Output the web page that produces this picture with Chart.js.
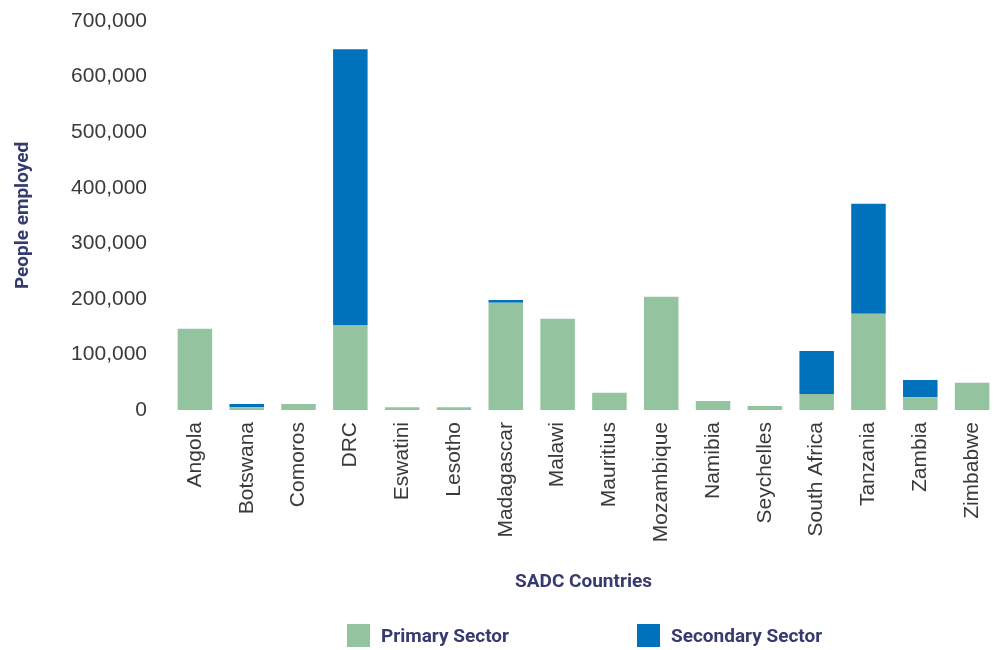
<!DOCTYPE html>
<html>
<head>
<meta charset="utf-8">
<script src="https://cdn.jsdelivr.net/npm/chart.js@4"></script>
<style>
  html, body { margin: 0; padding: 0; background: #fff; }
  #wrap { position: relative; width: 1003px; height: 650px; }
  #legend { position: absolute; top: 622px; left: 0; width: 1003px; height: 28px; font-family: Roboto, sans-serif; font-weight: bold; font-size: 19px; color: #353a6f; }
  .item { position: absolute; top: 0; display: flex; align-items: center; height: 27px; }
  .box { width: 23px; height: 23px; margin-right: 11px; }
</style>
</head>
<body>
<div id="wrap">
  <canvas id="c" width="1003" height="650"></canvas>
  <div id="legend"></div>
</div>
<script>
const categories = ["Angola","Botswana","Comoros","DRC","Eswatini","Lesotho","Madagascar","Malawi","Mauritius","Mozambique","Namibia","Seychelles","South Africa","Tanzania","Zambia","Zimbabwe"];
const primarySector = [146000, 5000, 11000, 153000, 5000, 5000, 193000, 164000, 31000, 204000, 16000, 7000, 29000, 173000, 23000, 49000];
const secondarySector = [0, 6000, 0, 496000, 0, 0, 5000, 0, 0, 0, 0, 0, 77000, 198000, 31000, 0];
const seriesNames = ["Primary Sector", "Secondary Sector"];
const seriesColors = ["#93c49f", "#0072bc"];
const yTicks = [0, 100000, 200000, 300000, 400000, 500000, 600000, 700000];

const navy = "#353a6f";
const titleFont = { family: "Roboto, sans-serif", weight: "bold", size: 19 };
const tickFont = { family: "'Liberation Sans', Arial, sans-serif", size: 21, weight: "normal" };

const chart = new Chart(document.getElementById("c"), {
  type: "bar",
  data: {
    labels: categories,
    datasets: [
      { label: seriesNames[0], data: primarySector, backgroundColor: seriesColors[0], barPercentage: 0.666, categoryPercentage: 1 },
      { label: seriesNames[1], data: secondarySector, backgroundColor: seriesColors[1], barPercentage: 0.666, categoryPercentage: 1 }
    ]
  },
  options: {
    responsive: false,
    animation: false,
    layout: { padding: { top: 21, right: 5, bottom: 50, left: 0 } },
    plugins: { legend: { display: false }, tooltip: { enabled: false } },
    scales: {
      x: {
        stacked: true,
        grid: { display: false },
        border: { display: false },
        ticks: { color: "#3a3a3a", font: tickFont, minRotation: 90, maxRotation: 90, padding: 4, autoSkip: false },
        title: { display: true, text: "SADC Countries", color: navy, font: titleFont, padding: { top: 0, bottom: 6 } },
        afterFit: s => { s.height = 190; s.paddingLeft = 0; s.paddingRight = 0; }
      },
      y: {
        stacked: true,
        min: 0, max: 700000,
        afterBuildTicks: s => { s.ticks = yTicks.map(v => ({ value: v })); },
        grid: { display: false },
        border: { display: false },
        ticks: { color: "#3a3a3a", font: tickFont, padding: 14, callback: v => v.toLocaleString("en-US") },
        title: { display: true, text: "People employed", color: navy, font: titleFont, padding: { top: 12, bottom: 0 } },
        afterFit: s => { s.width = 169; s.paddingTop = 0; s.paddingBottom = 0; }
      }
    }
  }
});

// HTML legend built from the chart's datasets
const legend = document.getElementById("legend");
const positions = [347, 637];
chart.data.datasets.forEach((ds, i) => {
  const it = document.createElement("div");
  it.className = "item";
  it.style.left = positions[i] + "px";
  const b = document.createElement("div");
  b.className = "box";
  b.style.background = ds.backgroundColor;
  const t = document.createElement("span");
  t.textContent = ds.label;
  it.appendChild(b); it.appendChild(t);
  legend.appendChild(it);
});
</script>
</body>
</html>
